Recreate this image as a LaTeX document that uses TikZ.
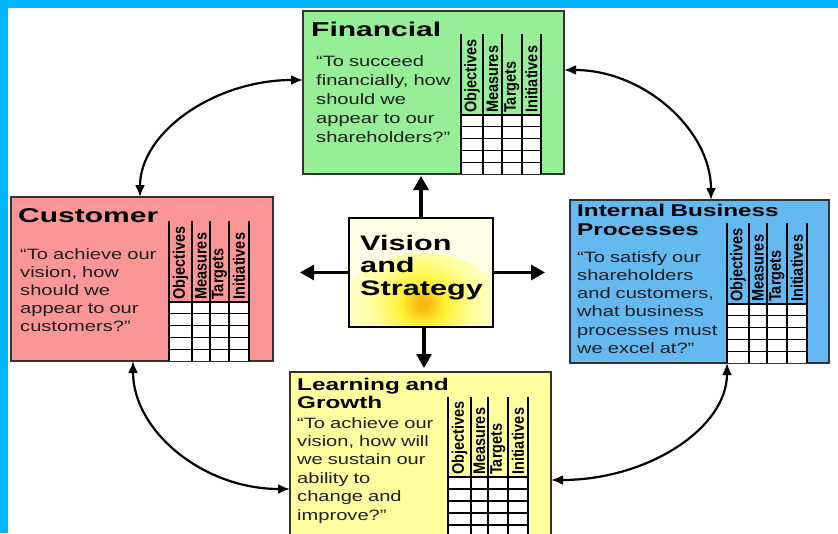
\documentclass[tikz,border=0pt]{standalone}
\usepackage{fontspec}
\setmainfont{Liberation Sans}
\newfontfamily\bodyf[FakeStretch=1.34]{Liberation Sans}
\newfontfamily\bigtf[FakeStretch=1.5]{Liberation Sans}
\newfontfamily\midtf[FakeStretch=1.43]{Liberation Sans}
\newfontfamily\vistf[FakeStretch=1.46]{Liberation Sans}
\usetikzlibrary{arrows.meta,calc}
\hyphenpenalty=10000
\definecolor{fingreen}{RGB}{150,238,150}
\definecolor{custpink}{RGB}{250,150,150}
\definecolor{intblue}{RGB}{100,185,240}
\definecolor{learnyel}{RGB}{255,255,160}
\definecolor{frameblue}{RGB}{0,180,255}
\definecolor{glowc}{RGB}{250,185,20}
\definecolor{glowy}{RGB}{255,240,50}
\definecolor{visbg}{RGB}{255,255,232}
\pgfdeclareradialshading{visglow}{\pgfpoint{0bp}{0bp}}{color(0bp)=(glowc); color(1.5bp)=(glowc); color(6bp)=(glowy); color(14bp)=(yellow!38!white); color(25bp)=(visbg); color(50bp)=(visbg)}
\newcommand{\bsctab}[9]{%
  \fill[white] (#2,#8) rectangle (#6,#9);
  \foreach \xx in {#2,#3,#4,#5,#6} \draw[tabline] (\xx,#7) -- (\xx,#9);
  \foreach \k in {0,...,4} \draw[tabline] (#2,{#8+\k*(#9-#8)/5}) -- (#6,{#8+\k*(#9-#8)/5});
  \node[hd] (#1o) at ({(#2+#3)/2},#8-2) {\scalebox{1}[1.15]{Objectives}};
  \node[hd] (#1m) at ({(#3+#4)/2},#8-2) {\scalebox{1}[1.15]{Measures}};
  \node[hd] (#1t) at ({(#4+#5)/2},#8-2) {\scalebox{1}[1.15]{Targets}};
  \node[hd] (#1i) at ({(#5+#6)/2},#8-2) {\scalebox{1}[1.15]{Initiatives}};
}
\begin{document}
\begin{tikzpicture}[x=1pt,y=-1pt,
  box/.style={draw=black!80, line width=1.5pt, anchor=north west, inner sep=0pt, outer sep=0pt},
  tabline/.style={line width=1.3pt, black},
  hd/.style={rotate=90, anchor=west, inner sep=0pt, font=\fontsize{14.5}{14.5}\selectfont\bfseries},
  txt/.style={anchor=base west, inner sep=0pt, align=left, text width=320pt, text=black!88},
  bodytxt/.style={txt, font=\bodyf\fontsize{15}{#1}\selectfont},
  bigtitle/.style={txt, text=black, font=\bigtf\bfseries\fontsize{20}{22}\selectfont},
  midtitle/.style={txt, text=black, font=\midtf\bfseries\fontsize{17}{19}\selectfont},
  curv/.style={line width=2.2pt, arrows={Latex[length=12pt,width=10pt]-Latex[length=12pt,width=10pt]}},
  bigarr/.style={line width=3.2pt, arrows={-Triangle[length=14pt,width=15pt]}}]
\useasboundingbox (0,0) rectangle (838,533);
\clip (0,0) rectangle (838,533);
\fill[white] (0,0) rectangle (838,533);
\fill[frameblue] (0,0) rectangle (838,8);
\fill[frameblue] (0,0) rectangle (8,533);

% perspective boxes
\node[box, fill=fingreen, minimum width=261pt, minimum height=163pt] (fin) at (303,11) {};
\node[box, fill=custpink, minimum width=262pt, minimum height=164pt] (cust) at (11,197) {};
\node[box, fill=intblue, minimum width=259pt, minimum height=163pt] (int) at (570,200) {};
\node[box, fill=learnyel, minimum width=261pt, minimum height=166pt] (learn) at (290,372) {};

% vision box
\node[box, draw=black, line width=2pt, fill=visbg, minimum width=144pt, minimum height=109pt,
  path picture={\shade[shading=visglow] ($(path picture bounding box.south)+(2,-6)$) ellipse [x radius=90, y radius=68];}] (vis) at (349,218) {};

% tables
\bsctab{fT}{461}{483}{502}{522}{541}{34}{115}{174}
\bsctab{cT}{169}{192}{210}{229}{249}{221}{302}{361}
\bsctab{iT}{727}{749}{767}{787}{807}{223}{304}{363}
\bsctab{lT}{448}{471}{488}{508}{528}{397}{477}{537}

% texts
\node[bigtitle] (finT) at (311,36) {Financial};
\node[bodytxt=19] (finB) at (316,66) {“To succeed\\financially, how\\should we\\appear to our\\shareholders?”};
\node[bigtitle] (custT) at (18,222) {Customer};
\node[bodytxt=18] (custB) at (20,259) {“To achieve our\\vision, how\\should we\\appear to our\\customers?”};
\node[midtitle] (intT) at (577,216) {Internal Business\\Processes};
\node[bodytxt=18.3] (intB) at (577,262) {“To satisfy our\\shareholders\\and customers,\\what business\\processes must\\we excel at?”};
\node[midtitle, font=\midtf\bfseries\fontsize{17}{18.5}\selectfont] (learnT) at (297,390) {Learning and\\Growth};
\node[bodytxt=18.4] (learnB) at (297,428) {“To achieve our\\vision, how will\\we sustain our\\ability to\\change and\\improve?”};
\node[txt, text=black, font=\vistf\bfseries\fontsize{21}{22.5}\selectfont] (visT) at (360,250) {Vision\\and\\Strategy};

% straight arrows from the centre
\coordinate (lt) at ($(vis.west)+(-49,0)$);
\coordinate (rt) at ($(vis.east)+(52,0)$);
\draw[bigarr, shorten >=2pt] (vis.north) -- (vis.north |- fin.south);
\draw[bigarr, shorten >=4pt] ($(vis.south)+(3,0)$) -- ($(vis.south |- learn.north)+(3,0)$);
\draw[bigarr] (vis.west) -- (lt);
\draw[bigarr] (vis.east) -- (rt);

% curved arrows
\coordinate (c1a) at ($(fin.north west)+(0,69)$);
\coordinate (c1b) at ($(cust.north west)+(129,0)$);
\coordinate (c2a) at ($(fin.north east)+(0,59)$);
\coordinate (c2b) at ($(int.north west)+(141,0)$);
\coordinate (c3a) at ($(cust.south west)+(122,0)$);
\coordinate (c3b) at ($(learn.north west)+(0,117)$);
\coordinate (c4a) at ($(int.south west)+(157,0)$);
\coordinate (c4b) at ($(learn.north east)+(0,108)$);
\draw[curv] (c1a) .. controls +(-88,0) and +(0,-65) .. (c1b);
\draw[curv] (c2a) .. controls +(80,0) and +(0,-70) .. (c2b);
\draw[curv] (c3a) .. controls +(0,70) and +(-87,0) .. (c3b);
\draw[curv] (c4a) .. controls +(0,65) and +(97,0) .. (c4b);
\end{tikzpicture}
\end{document}
